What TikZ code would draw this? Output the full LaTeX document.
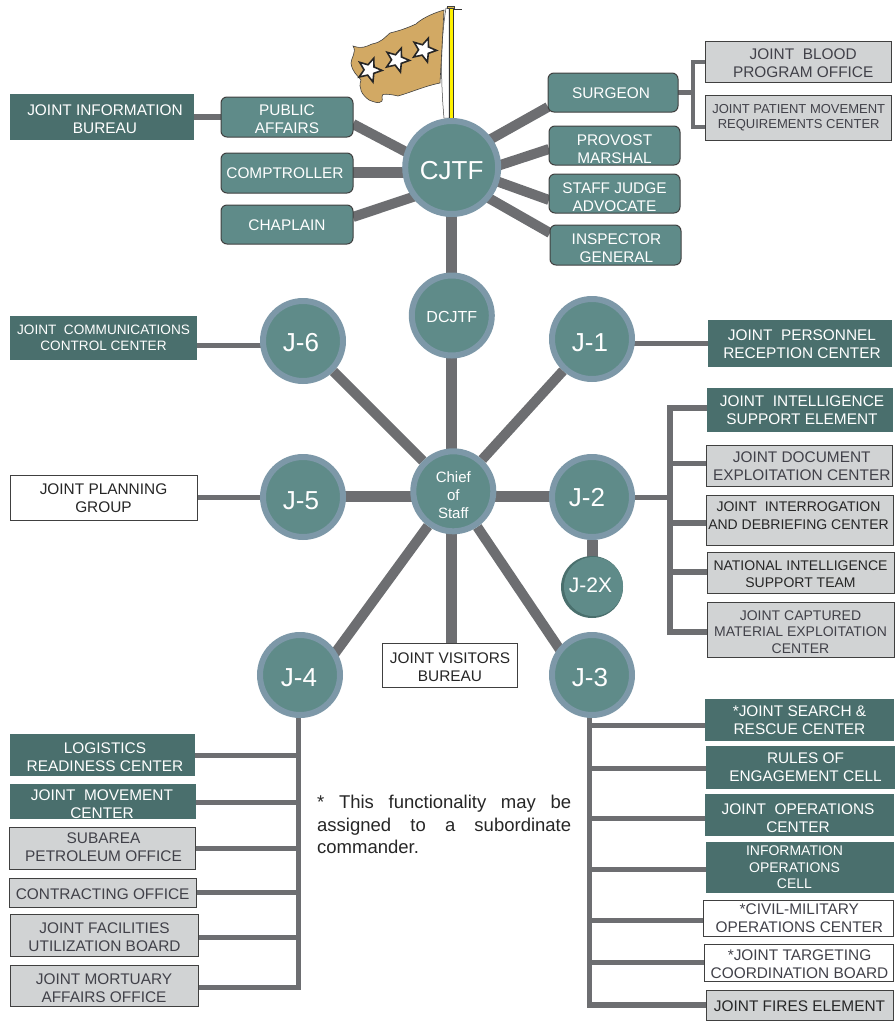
\documentclass[tikz,border=0pt]{standalone}
\usepackage{fontspec}
\setmainfont{Liberation Sans}
\usetikzlibrary{shapes.geometric,backgrounds,calc}
\definecolor{teal1}{HTML}{5F8B89}
\definecolor{tealdark}{HTML}{4A6F6D}
\definecolor{ringc}{HTML}{7D98A8}
\definecolor{linec}{HTML}{6D6E71}
\definecolor{grayb}{HTML}{D1D3D4}
\definecolor{grayt}{HTML}{414149}
\definecolor{flagc}{HTML}{D2A964}
\tikzset{
 x=1pt,y=-1pt,
 lbl/.style={font=\fontsize{15.4}{18}\selectfont,inner sep=0pt,outer sep=0pt},
 tealbox/.style={lbl,rectangle,rounded corners=6pt,draw=black!75,line width=1pt,fill=teal1,text=white},
 darkbox/.style={lbl,rectangle,fill=tealdark,text=white},
 graybox/.style={lbl,rectangle,draw=black!75,line width=1pt,fill=grayb,text=grayt},
 whitebox/.style={lbl,rectangle,draw=black!75,line width=.8pt,fill=white,text=black!85},
 hub/.style={circle,draw=ringc,line width=6pt,fill=teal1,text=white,inner sep=0pt,minimum size=80pt,font=\fontsize{26}{28}\selectfont},
 spoke/.style={draw=linec,line width=10pt},
 wide conn/.style={draw=linec,line width=11pt},
 thin conn/.style={draw=linec,line width=5pt},
 branch/.style={draw=linec,line width=5.5pt,line cap=rect},
 star mark/.style={star,star points=5,star point ratio=2.3,draw=black!85,line width=1.6pt,fill=white,minimum size=25pt,inner sep=0pt},
}
% text with its cap block centred on the node centre, moved by dx,dy
\newcommand{\moved}[3]{\raisebox{\dimexpr-.61em+.2\baselineskip-#2pt\relax}[0pt][0pt]{\makebox[0pt]{\hspace*{\dimexpr 2\dimexpr #1pt\relax\relax}\begin{tabular}{@{}c@{}}#3\end{tabular}}}}
\newcommand{\bx}[9]{\node[#1,minimum width=#5 pt - #3 pt,minimum height=#6 pt - #4 pt] (#2) at ({(#3+#5)/2},{(#4+#6)/2}) {\moved{#7}{#8}{#9}};}
\begin{document}
\begin{tikzpicture}
\useasboundingbox (0,0) rectangle (896,1026);
% flag
\draw[draw=black!75,line width=.5pt,fill=white] (446,8) .. controls (440,45) and (441,85) .. (444,118) -- (449,118) -- (449,8) -- cycle;
\draw[draw=black!80,line width=.6pt,fill=yellow] (449,8) rectangle (453,118);
\draw[draw=black!75,line width=.8pt,fill=flagc!80!yellow] (447.5,6) rectangle (454.5,8);
\draw[black!80,line width=1pt] (454,9) -- (462,9);
\draw[draw=black!75,line width=.6pt,fill=flagc] (444,10) .. controls (430,14) and (420,20) .. (416,24) .. controls (405,29) and (398,31) .. (390,33)
 .. controls (384,38) and (382,42) .. (372,44) .. controls (365,47) and (362,49) .. (353,46)
 .. controls (357,52) and (351,58) .. (351,63) .. controls (352,72) and (358,76) .. (361,80)
 .. controls (358,88) and (362,95) .. (369,100) .. controls (376,103) and (384,105) .. (382,97)
 .. controls (380,93) and (390,94) .. (398,96) .. controls (412,92) and (425,86) .. (440,83) -- cycle;
\node[star mark,rotate=-20] (s1) at (369.5,70) {};
\node[star mark,rotate=-20] (s2) at (397,60) {};
\node[star mark,rotate=-20] (s3) at (424,50) {};
% hubs
\node[hub,minimum size=93pt] (cjtf) at (451.7,167.5) {\moved{0}{2}{CJTF}};
\node[hub,font=\fontsize{16}{18}\selectfont] (dcjtf) at (451.8,315.5) {\moved{0}{2}{DCJTF}};
\node[hub] (j1) at (592,339) {\moved{-2}{3}{J-1}};
\node[hub] (j6) at (303,341) {\moved{-2}{1}{J-6}};
\node[hub,font=\fontsize{15}{18}\selectfont] (cos) at (453.3,491.3) {\moved{0}{3.5}{Chief\\of\\Staff}};
\node[hub] (j5) at (303,497) {\moved{-2}{3}{J-5}};
\node[hub] (j2) at (592,497) {\moved{-5}{0}{J-2}};
\node[hub] (j4) at (300,675) {\moved{-1}{2}{J-4}};
\node[hub] (j3) at (592,675) {\moved{-2}{2}{J-3}};
\fill[tealdark] (592,587) circle (31);
\node[circle,fill=teal1,text=white,inner sep=0pt,minimum size=59pt,font=\fontsize{21}{22}\selectfont] (j2x) at (593.5,586.5) {\moved{-3}{-1.5}{J-2X}};
% boxes around the CJTF
\bx{darkbox}{jib}{10}{94}{194}{140}{3}{2}{JOINT INFORMATION\\BUREAU}
\bx{tealbox}{pa}{221}{97}{353}{137}{0}{1.5}{PUBLIC\\AFFAIRS}
\bx{tealbox}{comp}{221}{153}{353}{193}{-2}{0}{COMPTROLLER}
\bx{tealbox}{chap}{221}{205}{353}{244}{0}{.5}{CHAPLAIN}
\bx{tealbox}{surg}{548}{73}{678}{112}{-2}{0}{SURGEON}
\bx{tealbox}{pm}{549}{126}{680}{165}{0}{3}{PROVOST\\MARSHAL}
\bx{tealbox}{sja}{549}{174}{680}{213}{0}{3}{STAFF JUDGE\\ADVOCATE}
\bx{tealbox}{ig}{550}{225}{681}{265}{1}{3}{INSPECTOR\\GENERAL}
\bx{graybox}{jbpo}{705.7}{41.7}{891.7}{82.3}{4.5}{1}{JOINT\ \ BLOOD\\PROGRAM OFFICE}
\bx{graybox,font=\fontsize{13}{15}\selectfont}{jpm}{705.7}{95.7}{891.7}{140.3}{0}{-2.3}{JOINT PATIENT MOVEMENT\\REQUIREMENTS CENTER}
% side boxes
\bx{darkbox,font=\fontsize{13.6}{16.5}\selectfont}{jccc}{10}{316}{197}{360}{0}{0}{JOINT\ \ COMMUNICATIONS\\CONTROL CENTER}
\bx{whitebox}{jpg}{10}{475}{197}{520}{0}{.5}{JOINT PLANNING\\GROUP}
\bx{whitebox}{jvb}{382.7}{643.3}{517.3}{687.3}{0}{1.3}{JOINT VISITORS\\BUREAU}
\bx{darkbox}{jprc}{708}{320}{892}{367}{2}{0}{JOINT\ \ PERSONNEL\\RECEPTION CENTER}
% J-2
\bx{darkbox}{jise}{707}{388}{893}{431.7}{2}{0}{JOINT\ \ INTELLIGENCE\\SUPPORT ELEMENT}
\bx{graybox}{jdec}{706.7}{445.3}{892.7}{486.7}{2}{0}{JOINT DOCUMENT\\EXPLOITATION CENTER}
\bx{graybox,text=black!85,font=\fontsize{14}{17.3}\selectfont}{jidc}{706.7}{495.7}{893.3}{545.3}{-1.5}{-5}{JOINT\ \ INTERROGATION\\AND DEBRIEFING CENTER}
\bx{graybox,text=black!85,font=\fontsize{14}{17}\selectfont}{nist}{707}{552.3}{894}{593}{0}{1}{NATIONAL INTELLIGENCE\\SUPPORT TEAM}
\bx{graybox,font=\fontsize{14}{16.5}\selectfont}{jcm}{707}{602.7}{894}{657}{0}{2}{JOINT CAPTURED\\MATERIAL EXPLOITATION\\CENTER}
% J-3
\bx{darkbox}{sar}{705}{699}{894}{741}{0}{0}{*JOINT SEARCH \&\\RESCUE CENTER}
\bx{darkbox}{roe}{706}{746}{895}{788.7}{5}{-.5}{RULES OF\\ENGAGEMENT CELL}
\bx{darkbox}{joc}{705}{794}{894}{836}{-1.5}{2.7}{JOINT\ \ OPERATIONS\\CENTER}
\bx{darkbox,font=\fontsize{14}{16.5}\selectfont}{ioc}{706}{842}{894}{892.7}{-5.5}{0}{INFORMATION\\OPERATIONS\\CELL}
\bx{whitebox,text=grayt}{cmoc}{703.7}{900}{893}{936}{1}{0}{*CIVIL-MILITARY\\OPERATIONS CENTER}
\bx{whitebox,text=grayt}{jtcb}{704}{944}{893}{981}{1}{1}{*JOINT TARGETING\\COORDINATION BOARD}
\bx{graybox,text=black!85}{jfe}{706}{990}{893}{1020.7}{0}{.5}{JOINT FIRES ELEMENT}
% J-4
\bx{darkbox}{lrc}{10}{734}{195}{776}{2.5}{1.7}{LOGISTICS\\READINESS CENTER}
\bx{darkbox}{jmc}{10}{784}{196}{819}{-1}{2.3}{JOINT\ \ MOVEMENT\\CENTER}
\bx{graybox}{spo}{9.3}{827.3}{195.7}{869}{1}{-1}{SUBAREA\\PETROLEUM OFFICE}
\bx{graybox}{co}{9.3}{878}{196}{907}{0}{1.5}{CONTRACTING OFFICE}
\bx{graybox}{jfub}{10}{914}{198}{956}{.5}{2}{JOINT FACILITIES\\UTILIZATION BOARD}
\bx{graybox}{jmao}{10}{965}{198}{1006.7}{0}{2}{JOINT MORTUARY\\AFFAIRS OFFICE}
% footnote
\node[font=\fontsize{18.5}{22.5}\selectfont,text=black!85,text width=254pt,align=justify,inner sep=0pt,anchor=north west] (fn) at (317,795) {* This functionality may be\linebreak assigned to a subordinate\linebreak commander.};
% named junctions
\coordinate (sptop) at (693,62);
\coordinate (spbot) at (693,127);
\coordinate (j2bot) at (670,632);
\coordinate (j3bot) at (589.5,1005);
\coordinate (j4bot) at (298.7,987.7);
\begin{scope}[on background layer]
\draw[thin conn,line width=6pt] (jib) -- (pa);
\draw[spoke] ($(cjtf)+(0,8.5)$) -- ($(pa.east)+(0,7)$);
\draw[wide conn] ($(comp.east)+(0,-1)$) -- ($(comp.east -| cjtf.center)+(0,-1)$);
\draw[spoke] ($(cjtf)+(0,16.5)$) -- ($(chap.east)+(0,-7.5)$);
\draw[spoke] ($(cjtf)+(0,-6.5)$) -- ($(surg.west)+(0,14.5)$);
\draw[spoke] ($(cjtf)+(0,13.5)$) -- ($(pm.west)+(0,3.5)$);
\draw[spoke] ($(cjtf)+(0,-2.5)$) -- ($(sja.west)+(0,6.5)$);
\draw[spoke] ($(cjtf)+(0,9.5)$) -- ($(ig.west)+(0,-12)$);
\draw[wide conn] (cjtf.center -| dcjtf.center) -- (cos.center -| dcjtf.center);
\draw[wide conn] ($(j5)+(0,-1)$) -- ($(j2)+(0,-1)$);
\draw[spoke] (cos) -- (j6);
\draw[spoke] (cos) -- (j1);
\draw[spoke] (cos) -- ($(j4)+(19,0)$);
\draw[spoke] (cos) -- ($(j3)+(-15,0)$);
\draw[wide conn] (cos.center -| dcjtf.center) -- (jvb.north -| dcjtf.center);
\draw[wide conn] (j2) -- (j2 |- j2x);
\draw[thin conn] ($(j6)+(0,4)$) -- ($(jccc.east)+(0,7)$);
\draw[thin conn] (jprc.west) -- (jprc.west -| j1);
\draw[thin conn] (jpg.east) -- (jpg.east -| j5);
\draw[thin conn] (j2) -- (j2 -| j2bot);
\draw[thin conn] (surg) -- (surg -| sptop);
\draw[branch,line width=4.5pt] (jbpo.west |- sptop) -| (spbot) -- (jpm.west |- spbot);
\draw[branch] ($(jise.west)+(0,-2)$) -| (j2bot);
\draw[branch] ($(jdec.west)+(0,-2.5)$) -| (j2bot);
\draw[branch] ($(jidc.west)+(0,2.5)$) -| (j2bot);
\draw[branch] ($(nist.west)+(0,-.5)$) -| (j2bot);
\draw[branch] (jcm.west |- j2bot) -- (j2bot);
\draw[branch] (j3bot |- j3) -- (j3bot) -- (j3bot -| jfe.west);
\draw[thin conn] ($(sar.west)+(0,5)$) -| (j3bot);
\draw[thin conn] ($(roe.west)+(0,1.3)$) -| (j3bot);
\draw[thin conn] ($(joc.west)+(0,3.3)$) -| (j3bot);
\draw[thin conn] ($(ioc.west)+(0,1.7)$) -| (j3bot);
\draw[thin conn] ($(cmoc.west)+(0,2)$) -| (j3bot);
\draw[thin conn] ($(jtcb.west)+(0,-.5)$) -| (j3bot);
\draw[branch] (j4bot |- j4) -- (j4bot) -- (j4bot -| jmao.east);
\draw[thin conn] (lrc.east) -| (j4bot);
\draw[thin conn] ($(jmc.east)+(0,.5)$) -| (j4bot);
\draw[thin conn] (spo.east) -| (j4bot);
\draw[thin conn] (co.east) -| (j4bot);
\draw[thin conn] ($(jfub.east)+(0,2.7)$) -| (j4bot);
\end{scope}
\end{tikzpicture}
\end{document}
